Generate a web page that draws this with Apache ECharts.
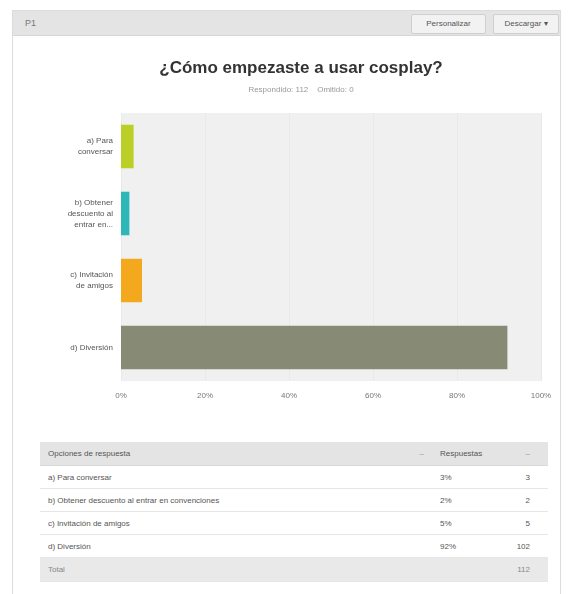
<!DOCTYPE html>
<html>
<head>
<meta charset="utf-8">
<script src="https://cdn.jsdelivr.net/npm/echarts@6/dist/echarts.min.js"></script>
<style>
  html, body { margin: 0; padding: 0; background: #fff; }
  body { width: 572px; height: 594px; position: relative; overflow: hidden;
         font-family: "Liberation Sans", Arial, sans-serif; color: #444; }
  #panel { position: absolute; left: 12px; top: 10px; width: 547px; height: 585px;
           border: 1px solid #dcdcdc; background: #fff; }
  #toolbar { position: absolute; left: 0; top: 0; right: 0; height: 24px;
             background: #e4e4e4; border-bottom: 1px solid #d6d6d6; }
  #qnum { position: absolute; left: 12px; top: 7px; font-size: 9px; color: #777; }
  .btn { position: absolute; top: 3px; height: 18px; line-height: 18px; font-size: 8px;
         color: #555; background: #f2f2f2; border: 1px solid #cfcfcf; border-radius: 2px;
         text-align: center; }
  #chart { position: absolute; left: 0; top: 0; width: 572px; height: 420px; }
  #tbl { position: absolute; left: 40px; top: 442px; width: 508px; border-collapse: collapse;
         table-layout: fixed; font-size: 8px; color: #555; }
  #tbl td { height: 22px; padding: 0 8px; border-bottom: 1px solid #e6e6e6;
            white-space: nowrap; overflow: hidden; }
  #tbl tr.hd td { background: #e4e4e4; height: 23px; color: #555; border-bottom: 1px solid #d8d8d8; }
  #tbl tr.tot td { background: #e9e9e9; height: 23px; color: #888; }
  #tbl td.num { text-align: right; padding-right: 18px; }
</style>
</head>
<body>
<div id="panel">
  <div id="toolbar">
    <span id="qnum">P1</span>
    <div class="btn" style="left:398px;width:73px;">Personalizar</div>
    <div class="btn" style="left:480px;width:64px;">Descargar ▾</div>
  </div>
</div>
<div id="chart"></div>
<table id="tbl">
  <colgroup><col style="width:392px"><col style="width:58px"><col style="width:58px"></colgroup>
  <tbody id="tbody"></tbody>
</table>
<script>
// Survey question and answer data
const questionTitle = '¿Cómo empezaste a usar cosplay?';
const answeredCount = 112;
const skippedCount = 0;

const answerLabels = [
  'a) Para conversar',
  'b) Obtener descuento al entrar en convenciones',
  'c) Invitación de amigos',
  'd) Diversión'
];
const axisLabels = [
  'a) Para\nconversar',
  'b) Obtener\ndescuento al\nentrar en...',
  'c) Invitación\nde amigos',
  'd) Diversión'
];
const answerPercents = [3, 2, 5, 92];
const answerCounts = [3, 2, 5, 102];
const barColors = ['#bccf27', '#2fb6b8', '#f4a81e', '#878a74'];
const xTicks = [0, 20, 40, 60, 80, 100];

// Bar chart (first answer at the top)
const chart = echarts.init(document.getElementById('chart'), null, { renderer: 'canvas' });
chart.setOption({
  animation: false,
  title: {
    text: questionTitle,
    subtext: 'Respondido: ' + answeredCount + '    Omitido: ' + skippedCount,
    left: 296,
    textAlign: 'center',
    top: 55,
    itemGap: 9,
    textStyle: { fontSize: 17, fontWeight: 'bold', color: '#333', fontFamily: 'Liberation Sans' },
    subtextStyle: { fontSize: 8, color: '#999', fontFamily: 'Liberation Sans' }
  },
  grid: { left: 121, right: 31, top: 113, height: 268, backgroundColor: '#f0f0f0', show: true, borderWidth: 0 },
  xAxis: {
    type: 'value',
    min: xTicks[0],
    max: xTicks[xTicks.length - 1],
    interval: 20,
    axisLine: { show: false },
    axisTick: { show: false },
    splitLine: { show: true, lineStyle: { color: '#e9e9e9', width: 1 } },
    axisLabel: { formatter: '{value}%', fontSize: 8, color: '#777', margin: 11, fontFamily: 'Liberation Sans' }
  },
  yAxis: {
    type: 'category',
    inverse: true,
    data: axisLabels,
    axisLine: { show: false },
    axisTick: { show: false },
    axisLabel: { fontSize: 8, color: '#555', margin: 8, lineHeight: 11, align: 'right', fontFamily: 'Liberation Sans' }
  },
  series: [{
    type: 'bar',
    barCategoryGap: '35%',
    data: answerPercents.map((v, i) => ({ value: v, itemStyle: { color: barColors[i] } }))
  }]
});

// Response table under the chart
const tbody = document.getElementById('tbody');
let html = '<tr class="hd"><td>Opciones de respuesta <span style="float:right;color:#999">–</span></td>' +
           '<td>Respuestas</td><td class="num" style="color:#999">–</td></tr>';
answerLabels.forEach((lab, i) => {
  html += '<tr><td>' + lab + '</td><td>' + answerPercents[i] + '%</td>' +
          '<td class="num">' + answerCounts[i] + '</td></tr>';
});
html += '<tr class="tot"><td>Total</td><td></td><td class="num">' + answeredCount + '</td></tr>';
tbody.innerHTML = html;
</script>
</body>
</html>
